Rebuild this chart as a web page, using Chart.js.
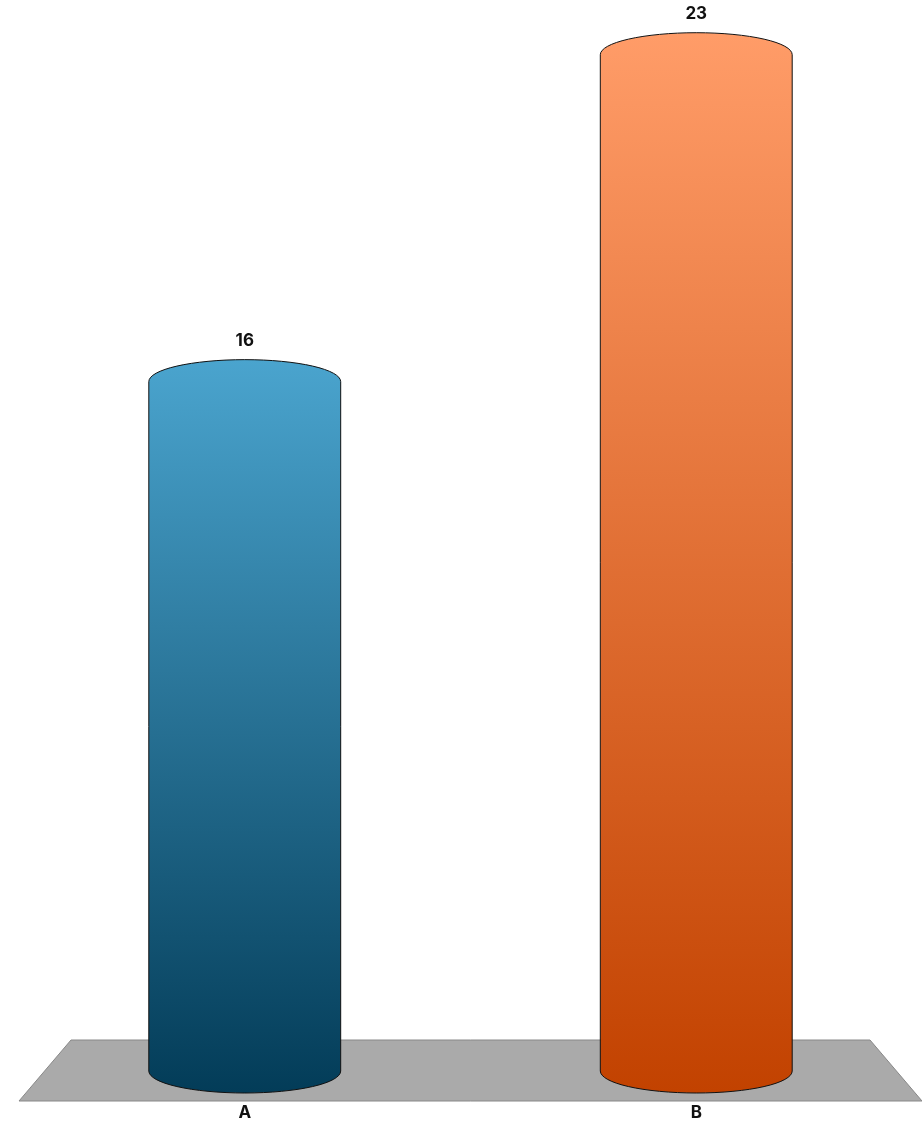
<!DOCTYPE html>
<html>
<head>
<meta charset="utf-8">
<script src="https://cdn.jsdelivr.net/npm/chart.js@4.4.1/dist/chart.umd.min.js"></script>
<style>
  html, body { margin:0; padding:0; background:#fff; }
  #wrap { width:922px; height:1121px; }
</style>
</head>
<body>
<div id="wrap"><canvas id="chart"></canvas></div>
<script>
const categories = ['A', 'B'];
const values = [16, 23];
const topColors = ['#4aa4ce', '#ff9c68'];
const bottomColors = ['#033c58', '#c24200'];
const yMin = 1.24, yMax = 24;

// draws each bar as a cylinder on a grey floor
const cylinderPlugin = {
  id: 'cylinders',
  beforeDatasetsDraw(chart) {
    const { ctx, chartArea } = chart;
    const base = chartArea.bottom;
    const inset = 52;
    ctx.save();
    ctx.beginPath();
    ctx.moveTo(chartArea.left + inset, base - 31);
    ctx.lineTo(chartArea.right - inset, base - 31);
    ctx.lineTo(chartArea.right, base + 30);
    ctx.lineTo(chartArea.left, base + 30);
    ctx.closePath();
    ctx.fillStyle = '#aaaaaa';
    ctx.fill();
    ctx.strokeStyle = '#888888';
    ctx.lineWidth = 1;
    ctx.stroke();
    ctx.restore();
  },
  afterDatasetsDraw(chart) {
    const { ctx, chartArea } = chart;
    const meta = chart.getDatasetMeta(0);
    const base = chartArea.bottom;
    meta.data.forEach((bar, i) => {
      const rx = bar.width / 2, ry = 22;
      const l = bar.x - rx, r = bar.x + rx;
      const g = ctx.createLinearGradient(0, bar.y - ry, 0, base + ry);
      g.addColorStop(0, topColors[i]);
      g.addColorStop(1, bottomColors[i]);
      ctx.save();
      ctx.beginPath();
      ctx.moveTo(l, bar.y);
      ctx.ellipse(bar.x, bar.y, rx, ry, 0, Math.PI, 2 * Math.PI);
      ctx.lineTo(r, base);
      ctx.ellipse(bar.x, base, rx, ry, 0, 0, Math.PI);
      ctx.closePath();
      ctx.fillStyle = g;
      ctx.fill();
      ctx.strokeStyle = '#111';
      ctx.lineWidth = 1;
      ctx.stroke();

      ctx.fillStyle = '#111';
      ctx.font = 'bold 17px Inter, "Noto Sans", sans-serif';
      ctx.textAlign = 'center';
      ctx.textBaseline = 'middle';
      ctx.fillText(values[i], bar.x, bar.y - ry - 19);
      ctx.fillText(categories[i], bar.x, base + 42);
      ctx.restore();
    });
  }
};

new Chart(document.getElementById('chart'), {
  type: 'bar',
  data: {
    labels: categories,
    datasets: [{ data: values, base: yMin, backgroundColor: 'rgba(0,0,0,0)', borderWidth: 0,
      barPercentage: 1, categoryPercentage: 0.425 }]
  },
  options: {
    responsive: true, maintainAspectRatio: false, animation: false,
    layout: { padding: { left: 19, right: 0, top: 8, bottom: 50 } },
    plugins: { legend: { display: false }, tooltip: { enabled: false } },
    scales: {
      x: { display: false },
      y: { display: false, min: yMin, max: yMax }
    }
  },
  plugins: [cylinderPlugin]
});
</script>
</body>
</html>
